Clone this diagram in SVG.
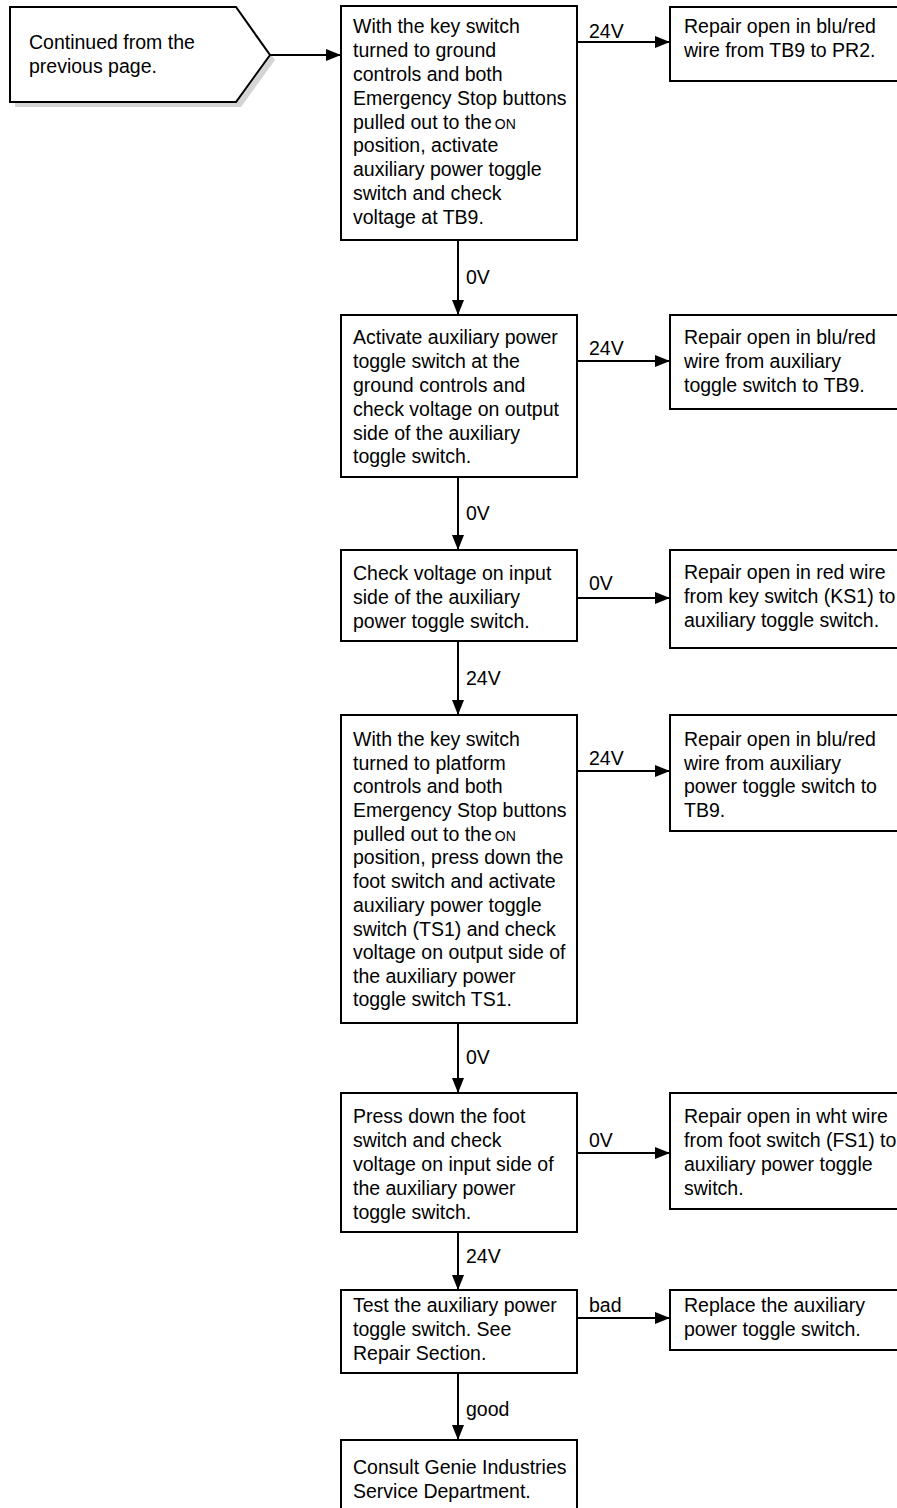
<svg xmlns="http://www.w3.org/2000/svg" width="897" height="1508" viewBox="0 0 897 1508">
<style>
.box{fill:#fff;stroke:#000;stroke-width:2}
.t{font-family:"Liberation Sans",Arial,sans-serif;font-size:19.5px;fill:#000;transform:translateY(1px)}
.sc{font-size:14px}
.c{stroke:#000;stroke-width:2;fill:none;marker-end:url(#ah)}
</style>
<defs>
<marker id="ah" markerUnits="userSpaceOnUse" markerWidth="16" markerHeight="12" refX="15" refY="6" orient="auto">
<path d="M0,0 L15,6 L0,12 Z" fill="#000"/>
</marker>
</defs>
<rect width="897" height="1508" fill="#fff"/>

<g id="start">
<polygon points="15,12 241,12 275,60 241,107 15,107" fill="#d4d4d4"/>
<polygon class="box" points="10,7 236,7 270,55 236,102 10,102"/>
<text class="t" x="29" y="48">Continued from the</text>
<text class="t" x="29" y="72">previous page.</text>
</g>

<g id="n1">
<rect class="box" x="341" y="6" width="236" height="234"/>
<text class="t" x="353" y="32">With the key switch</text>
<text class="t" x="353" y="56">turned to ground</text>
<text class="t" x="353" y="80">controls and both</text>
<text class="t" x="353" y="104">Emergency Stop buttons</text>
<text class="t" x="353" y="128">pulled out to the<tspan class="sc" dx="3">ON</tspan></text>
<text class="t" x="353" y="151">position, activate</text>
<text class="t" x="353" y="175">auxiliary power toggle</text>
<text class="t" x="353" y="199">switch and check</text>
<text class="t" x="353" y="223">voltage at TB9.</text>
</g>
<g id="r1">
<rect class="box" x="670" y="7" width="240" height="74"/>
<text class="t" x="684" y="32">Repair open in blu/red</text>
<text class="t" x="684" y="56">wire from TB9 to PR2.</text>
</g>

<g id="n2">
<rect class="box" x="341" y="315" width="236" height="162"/>
<text class="t" x="353" y="343">Activate auxiliary power</text>
<text class="t" x="353" y="367">toggle switch at the</text>
<text class="t" x="353" y="391">ground controls and</text>
<text class="t" x="353" y="415">check voltage on output</text>
<text class="t" x="353" y="439">side of the auxiliary</text>
<text class="t" x="353" y="462">toggle switch.</text>
</g>
<g id="r2">
<rect class="box" x="670" y="315" width="240" height="94"/>
<text class="t" x="684" y="343">Repair open in blu/red</text>
<text class="t" x="684" y="367">wire from auxiliary</text>
<text class="t" x="684" y="391">toggle switch to TB9.</text>
</g>

<g id="n3">
<rect class="box" x="341" y="550" width="236" height="91"/>
<text class="t" x="353" y="579">Check voltage on input</text>
<text class="t" x="353" y="603">side of the auxiliary</text>
<text class="t" x="353" y="627">power toggle switch.</text>
</g>
<g id="r3">
<rect class="box" x="670" y="550" width="240" height="98"/>
<text class="t" x="684" y="578">Repair open in red wire</text>
<text class="t" x="684" y="602">from key switch (KS1) to</text>
<text class="t" x="684" y="626">auxiliary toggle switch.</text>
</g>

<g id="n4">
<rect class="box" x="341" y="715" width="236" height="308"/>
<text class="t" x="353" y="745">With the key switch</text>
<text class="t" x="353" y="769">turned to platform</text>
<text class="t" x="353" y="792">controls and both</text>
<text class="t" x="353" y="816">Emergency Stop buttons</text>
<text class="t" x="353" y="840">pulled out to the<tspan class="sc" dx="3">ON</tspan></text>
<text class="t" x="353" y="863">position, press down the</text>
<text class="t" x="353" y="887">foot switch and activate</text>
<text class="t" x="353" y="911">auxiliary power toggle</text>
<text class="t" x="353" y="935">switch (TS1) and check</text>
<text class="t" x="353" y="958">voltage on output side of</text>
<text class="t" x="353" y="982">the auxiliary power</text>
<text class="t" x="353" y="1005">toggle switch TS1.</text>
</g>
<g id="r4">
<rect class="box" x="670" y="715" width="240" height="116"/>
<text class="t" x="684" y="745">Repair open in blu/red</text>
<text class="t" x="684" y="769">wire from auxiliary</text>
<text class="t" x="684" y="792">power toggle switch to</text>
<text class="t" x="684" y="816">TB9.</text>
</g>

<g id="n5">
<rect class="box" x="341" y="1093" width="236" height="139"/>
<text class="t" x="353" y="1122">Press down the foot</text>
<text class="t" x="353" y="1146">switch and check</text>
<text class="t" x="353" y="1170">voltage on input side of</text>
<text class="t" x="353" y="1194">the auxiliary power</text>
<text class="t" x="353" y="1218">toggle switch.</text>
</g>
<g id="r5">
<rect class="box" x="670" y="1093" width="240" height="116"/>
<text class="t" x="684" y="1122">Repair open in wht wire</text>
<text class="t" x="684" y="1146">from foot switch (FS1) to</text>
<text class="t" x="684" y="1170">auxiliary power toggle</text>
<text class="t" x="684" y="1194">switch.</text>
</g>

<g id="n6">
<rect class="box" x="341" y="1290" width="236" height="83"/>
<text class="t" x="353" y="1311">Test the auxiliary power</text>
<text class="t" x="353" y="1335">toggle switch. See</text>
<text class="t" x="353" y="1359">Repair Section.</text>
</g>
<g id="r6">
<rect class="box" x="670" y="1290" width="240" height="60"/>
<text class="t" x="684" y="1311">Replace the auxiliary</text>
<text class="t" x="684" y="1335">power toggle switch.</text>
</g>

<g id="n7">
<rect class="box" x="341" y="1440" width="236" height="90"/>
<text class="t" x="353" y="1473">Consult Genie Industries</text>
<text class="t" x="353" y="1497">Service Department.</text>
</g>

<g id="connectors">
<line class="c" x1="270" y1="55" x2="341" y2="55"/>
<line class="c" x1="577" y1="42" x2="670" y2="42"/>
<line class="c" x1="458" y1="240" x2="458" y2="315"/>
<line class="c" x1="577" y1="361" x2="670" y2="361"/>
<line class="c" x1="458" y1="477" x2="458" y2="550"/>
<line class="c" x1="577" y1="598" x2="670" y2="598"/>
<line class="c" x1="458" y1="641" x2="458" y2="715"/>
<line class="c" x1="577" y1="771" x2="670" y2="771"/>
<line class="c" x1="458" y1="1023" x2="458" y2="1093"/>
<line class="c" x1="577" y1="1153" x2="670" y2="1153"/>
<line class="c" x1="458" y1="1232" x2="458" y2="1290"/>
<line class="c" x1="577" y1="1318" x2="670" y2="1318"/>
<line class="c" x1="458" y1="1373" x2="458" y2="1440"/>
<text class="t" x="589" y="37">24V</text>
<text class="t" x="589" y="354">24V</text>
<text class="t" x="589" y="589">0V</text>
<text class="t" x="589" y="764">24V</text>
<text class="t" x="589" y="1146">0V</text>
<text class="t" x="589" y="1311">bad</text>
<text class="t" x="466" y="283">0V</text>
<text class="t" x="466" y="519">0V</text>
<text class="t" x="466" y="684">24V</text>
<text class="t" x="466" y="1063">0V</text>
<text class="t" x="466" y="1262">24V</text>
<text class="t" x="466" y="1415">good</text>
</g>
</svg>
